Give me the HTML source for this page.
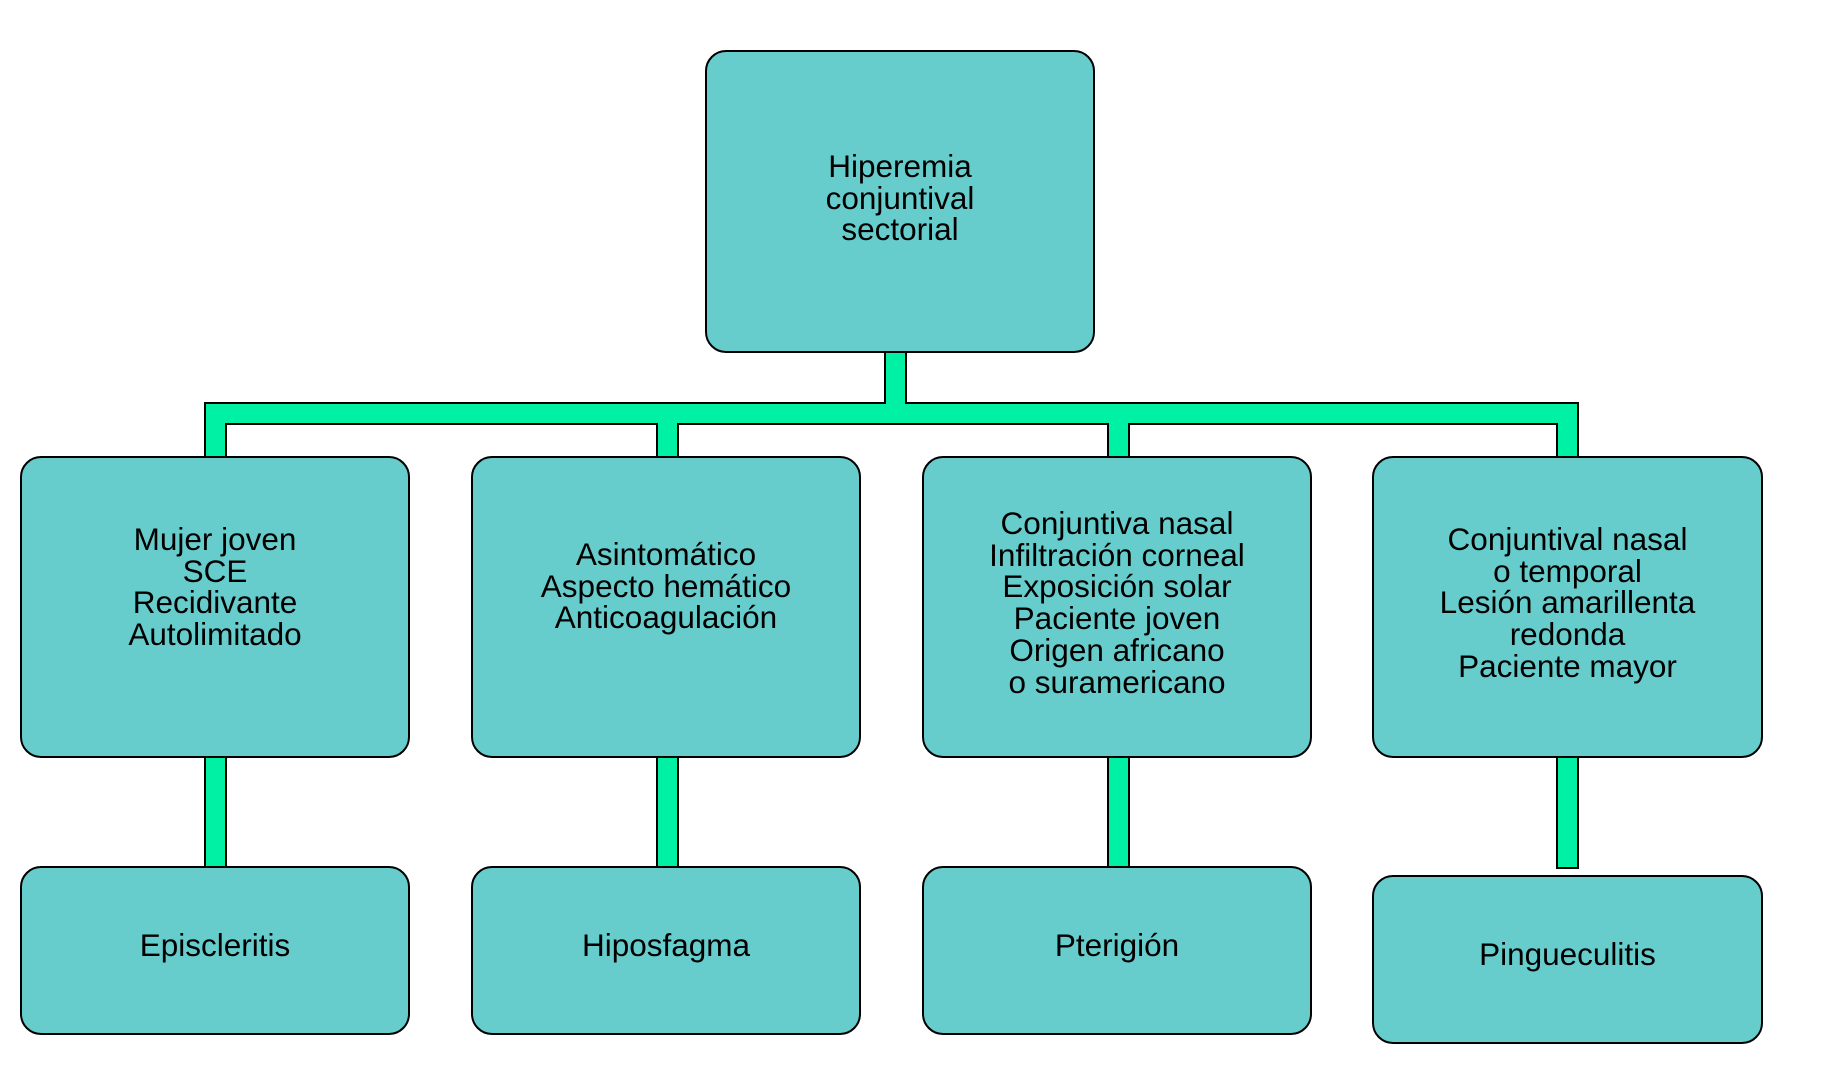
<!DOCTYPE html>
<html><head><meta charset="utf-8"><style>
body{margin:0;width:1829px;height:1070px;background:#fff;position:relative;overflow:hidden;font-family:"Liberation Sans",Arial,sans-serif}
svg{position:absolute;left:0;top:0}
.t{position:absolute;text-align:center;font-size:31.5px;line-height:31.7px;color:#000;white-space:nowrap}
</style></head><body>
<svg width="1829" height="1070">
<g fill="#00F0A4" stroke="#000" stroke-width="2">
<rect x="885" y="352" width="21" height="60"/>
<rect x="205" y="403" width="1373" height="21"/>
<rect x="205" y="403" width="21" height="54"/>
<rect x="657" y="413" width="21" height="44"/>
<rect x="1108" y="413" width="21" height="44"/>
<rect x="1557" y="403" width="21" height="54"/>
<rect x="205" y="757" width="21" height="110"/>
<rect x="657" y="757" width="21" height="110"/>
<rect x="1108" y="757" width="21" height="110"/>
<rect x="1557" y="757" width="21" height="111"/>
</g>
<g fill="#00F0A4">
<rect x="886" y="352" width="19" height="71"/>
<rect x="206" y="404" width="19" height="55"/>
<rect x="206" y="404" width="1371" height="19"/>
<rect x="658" y="404" width="19" height="55"/>
<rect x="1109" y="404" width="19" height="55"/>
<rect x="1558" y="404" width="19" height="55"/>
</g>
<g fill="#66CCCC" stroke="#000" stroke-width="2">
<rect x="706" y="51" width="388" height="301" rx="20"/>
<rect x="21" y="457" width="388" height="300" rx="20"/>
<rect x="472" y="457" width="388" height="300" rx="20"/>
<rect x="923" y="457" width="388" height="300" rx="20"/>
<rect x="1373" y="457" width="389" height="300" rx="20"/>
<rect x="21" y="867" width="388" height="167" rx="20"/>
<rect x="472" y="867" width="388" height="167" rx="20"/>
<rect x="923" y="867" width="388" height="167" rx="20"/>
<rect x="1373" y="876" width="389" height="167" rx="20"/>
</g>
</svg>
<div class="t" style="left:706px;width:388px;top:151px">Hiperemia<br>conjuntival<br>sectorial</div>
<div class="t" style="left:21px;width:388px;top:524px">Mujer joven<br>SCE<br>Recidivante<br>Autolimitado</div>
<div class="t" style="left:472px;width:388px;top:539px">Asintomático<br>Aspecto hemático<br>Anticoagulación</div>
<div class="t" style="left:923px;width:388px;top:508px">Conjuntiva nasal<br>Infiltración corneal<br>Exposición solar<br>Paciente joven<br>Origen africano<br>o suramericano</div>
<div class="t" style="left:1373px;width:389px;top:524px">Conjuntival nasal<br>o temporal<br>Lesión amarillenta<br>redonda<br>Paciente mayor</div>
<div class="t" style="left:21px;width:388px;top:930px">Episcleritis</div>
<div class="t" style="left:472px;width:388px;top:930px">Hiposfagma</div>
<div class="t" style="left:923px;width:388px;top:930px">Pterigión</div>
<div class="t" style="left:1373px;width:389px;top:939px">Pingueculitis</div>
</body></html>
